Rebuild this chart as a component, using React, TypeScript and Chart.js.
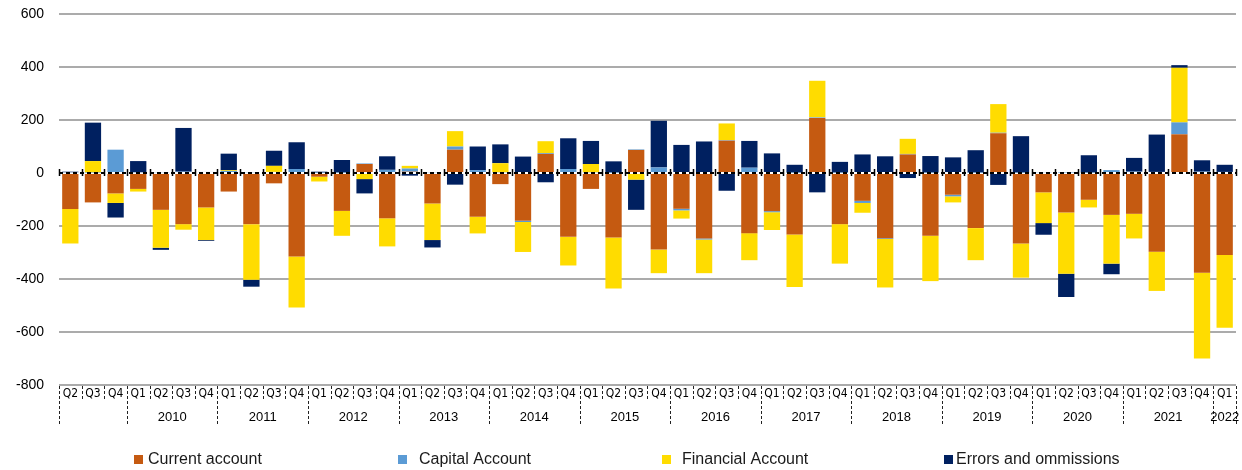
import React, { useEffect, useRef } from "react";
import { Chart, registerables } from "chart.js";

Chart.register(...registerables);

const quarters = [
  "Q2", "Q3", "Q4",
  "Q1", "Q2", "Q3", "Q4",
  "Q1", "Q2", "Q3", "Q4",
  "Q1", "Q2", "Q3", "Q4",
  "Q1", "Q2", "Q3", "Q4",
  "Q1", "Q2", "Q3", "Q4",
  "Q1", "Q2", "Q3", "Q4",
  "Q1", "Q2", "Q3", "Q4",
  "Q1", "Q2", "Q3", "Q4",
  "Q1", "Q2", "Q3", "Q4",
  "Q1", "Q2", "Q3", "Q4",
  "Q1", "Q2", "Q3", "Q4",
  "Q1", "Q2", "Q3", "Q4",
  "Q1",
];

// year of each category ("" = year not labelled)
const years = [
  "", "", "",
  "2010", "2010", "2010", "2010",
  "2011", "2011", "2011", "2011",
  "2012", "2012", "2012", "2012",
  "2013", "2013", "2013", "2013",
  "2014", "2014", "2014", "2014",
  "2015", "2015", "2015", "2015",
  "2016", "2016", "2016", "2016",
  "2017", "2017", "2017", "2017",
  "2018", "2018", "2018", "2018",
  "2019", "2019", "2019", "2019",
  "2020", "2020", "2020", "2020",
  "2021", "2021", "2021", "2021",
  "2022",
];

const currentAccount = [
  -136, -111, -77,
  -60, -139, -193, -130,
  -70, -193, -39, -315,
  -14, -143, 34, -171,
  5, -115, 88, -165,
  -42, -180, 72, -241,
  -60, -243, 87, -289,
  -135, -247, 122, -227,
  -144, -232, 208, -193,
  -105, -246, 70, -237,
  -82, -208, 150, -266,
  -73, -149, -101, -158,
  -154, -297, 146, -376,
  -309,
];

const capitalAccount = [
  3, 2, 88,
  3, 3, 5, 4,
  8, 3, 4, 15,
  2, 2, 2, 12,
  12, 3, 12, 11,
  3, -5, 3, 15,
  3, 2, 2, 21,
  -6, -4, 2, 20,
  -4, 2, 2, 2,
  -8, -3, 2, 2,
  -6, 2, 2, 2,
  3, 2, 2, 11,
  5, 4, 45, 5,
  4,
];

const financialAccount = [
  -130, 43, -36,
  -10, -143, -21, -123,
  3, -210, 23, -193,
  -18, -94, -23, -106,
  10, -138, 58, -63,
  34, -113, 45, -108,
  31, -193, -25, -89,
  -31, -127, 63, -102,
  -67, -198, 138, -149,
  -37, -183, 57, -171,
  -23, -121, 108, -129,
  -116, -231, -29, -184,
  -93, -148, 206, -324,
  -275,
];

const errorsOmissions = [
  2, 145, -55,
  42, -8, 165, -3,
  62, -26, 57, 101,
  3, 47, -54, 51,
  -10, -28, -44, 89,
  71, 62, -35, 116,
  87, 42, -114, 176,
  106, 119, -67, 101,
  74, 29, -73, 40,
  70, 63, -19, 62,
  59, 84, -45, 137,
  -44, -88, 65, -40,
  52, 141, 10, 43,
  27,
];

const seriesNames = ["Current account", "Capital Account", "Financial Account", "Errors and ommissions"];
const seriesColors = ["#C55A11", "#5B9BD5", "#FFDC00", "#002060"];

const yTicks = { min: -800, max: 600, step: 200 };

const FONT = "'Liberation Sans', Arial, Helvetica, sans-serif";

const decorPlugin = {
  id: "decor",
  afterDatasetsDraw(chart: any) {
    const { ctx, chartArea, scales } = chart;
    const x = scales.x;
    const y = scales.y;
    const y0 = y.getPixelForValue(0);
    const n = quarters.length;
    const half = (x.getPixelForValue(1) - x.getPixelForValue(0)) / 2;
    ctx.save();
    ctx.strokeStyle = "#000";
    ctx.lineWidth = 2;
    ctx.setLineDash([4, 3]);
    ctx.beginPath();
    ctx.moveTo(chartArea.left, y0);
    ctx.lineTo(chartArea.right, y0);
    ctx.stroke();
    ctx.setLineDash([]);
    ctx.lineWidth = 1.5;
    ctx.beginPath();
    for (let i = 0; i <= n; i++) {
      const bx = i < n ? x.getPixelForValue(i) - half : x.getPixelForValue(n - 1) + half;
      ctx.moveTo(Math.round(bx) + 0.5, y0 - 4);
      ctx.lineTo(Math.round(bx) + 0.5, y0 + 3);
    }
    ctx.stroke();
    ctx.restore();
  },
  afterDraw(chart: any) {
    const { ctx, chartArea, scales } = chart;
    const x = scales.x;
    const n = quarters.length;
    const half = (x.getPixelForValue(1) - x.getPixelForValue(0)) / 2;
    const bottom = chartArea.bottom;
    ctx.save();
    // separators
    ctx.strokeStyle = "#222";
    ctx.lineWidth = 1;
    ctx.setLineDash([3, 2]);
    for (let i = 0; i <= n; i++) {
      const bx = i < n ? x.getPixelForValue(i) - half : x.getPixelForValue(n - 1) + half;
      const isYear = i === 0 || i === n || years[i] !== years[i - 1];
      ctx.beginPath();
      ctx.moveTo(Math.round(bx) + 0.5, bottom + 1);
      ctx.lineTo(Math.round(bx) + 0.5, bottom + (isYear ? 40 : 16));
      ctx.stroke();
    }
    ctx.setLineDash([]);
    // year labels
    ctx.fillStyle = "#000";
    ctx.font = `13px ${FONT}`;
    ctx.textAlign = "center";
    ctx.textBaseline = "middle";
    let start = 0;
    for (let i = 1; i <= n; i++) {
      if (i === n || years[i] !== years[start]) {
        if (years[start]) {
          const cx = (x.getPixelForValue(start) + x.getPixelForValue(i - 1)) / 2;
          ctx.fillText(years[start], cx, bottom + 32);
        }
        start = i;
      }
    }
    // legend
    const markerLeft = [134, 398, 662, 944];
    const textLeft = [148, 419, 682, 956];
    const ly = 460;
    ctx.font = `16px ${FONT}`;
    ctx.textAlign = "left";
    for (let k = 0; k < seriesNames.length; k++) {
      ctx.fillStyle = seriesColors[k];
      ctx.fillRect(markerLeft[k], ly - 5, 9, 9);
      ctx.fillStyle = "#1a1a1a";
      ctx.fillText(seriesNames[k], textLeft[k], ly);
    }
    ctx.restore();
  },
};

export default function App() {
  const canvasRef = useRef<HTMLCanvasElement | null>(null);

  useEffect(() => {
    document.body.style.margin = "0";
    const canvas = canvasRef.current;
    if (!canvas) return;
    const seriesData = [currentAccount, capitalAccount, financialAccount, errorsOmissions];
    const chart = new Chart(canvas, {
      type: "bar",
      data: {
        labels: quarters,
        datasets: seriesNames.map((name, k) => ({
          label: name,
          data: seriesData[k],
          backgroundColor: seriesColors[k],
          borderWidth: 0,
          barPercentage: 0.72,
          categoryPercentage: 1,
        })),
      },
      options: {
        responsive: false,
        animation: false,
        layout: { padding: { top: 14, right: 6, left: 0, bottom: 0 } },
        plugins: {
          legend: { display: false },
          tooltip: { enabled: false },
        },
        scales: {
          x: {
            stacked: true,
            grid: { display: false, drawTicks: false },
            border: { display: false },
            ticks: {
              autoSkip: false,
              maxRotation: 0,
              minRotation: 0,
              padding: 2,
              color: "#000",
              font: { family: "'Liberation Sans Narrow', 'DejaVu Sans Condensed', 'Liberation Sans', Arial", size: 12 },
            },
            afterFit: (s: any) => {
              s.height = 85;
            },
          },
          y: {
            stacked: true,
            min: yTicks.min,
            max: yTicks.max,
            border: { display: false },
            grid: {
              drawTicks: false,
              lineWidth: 2,
              color: (c: any) => (c.tick && c.tick.value === 0 ? "rgba(0,0,0,0)" : "#ababab"),
            },
            ticks: {
              stepSize: yTicks.step,
              padding: 15,
              color: "#000",
              font: { family: FONT, size: 14 },
            },
            afterFit: (s: any) => {
              s.width = 59;
              s.paddingTop = 8;
              s.paddingBottom = 8;
            },
          },
        },
      },
      plugins: [decorPlugin],
    });
    return () => chart.destroy();
  }, []);

  return (
    <div style={{ width: 1242, height: 470 }}>
      <canvas ref={canvasRef} width={1242} height={470} style={{ display: "block" }} />
    </div>
  );
}
